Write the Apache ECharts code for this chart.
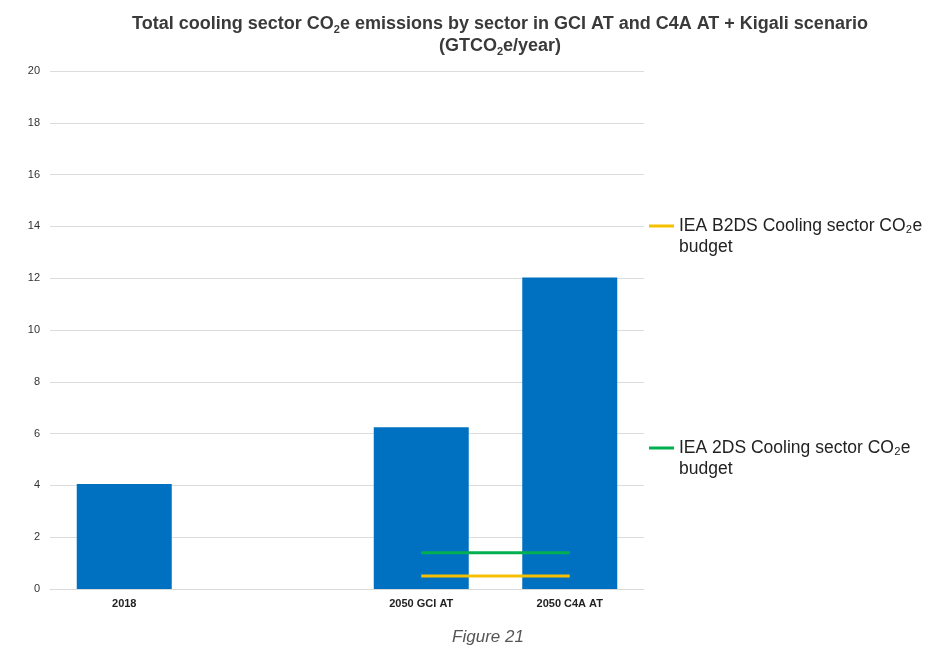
<!DOCTYPE html>
<html>
<head>
<meta charset="utf-8">
<script src="https://cdn.jsdelivr.net/npm/echarts@6/dist/echarts.min.js"></script>
<style>html,body{margin:0;padding:0;background:#fff}#c{width:936px;height:648px}</style>
</head>
<body>
<div id="c"></div>
<script>
const categories = ['2018', '', '2050 GCI AT', '2050 C4A AT'];
const emissions = [4.05, null, 6.25, 12.03];
const b2dsBudget = [null, null, 0.5, 0.5];
const twodsBudget = [null, null, 1.4, 1.4];
const yTicks = {min: 0, max: 20, interval: 2};
const b2dsName = 'IEA B2DS Cooling sector CO₂e budget';
const twodsName = 'IEA 2DS Cooling sector CO₂e budget';

const chart = echarts.init(document.getElementById('c'));
const legendText = {fontFamily: 'Liberation Sans, Arial, sans-serif', fontSize: 17.5, color: '#222', lineHeight: 21};
chart.setOption({
  animation: false,
  textStyle: {fontFamily: 'Liberation Sans, Arial, sans-serif'},
  title: [{
    text: 'Total cooling sector CO{s|2}e emissions by sector in GCI AT and C4A AT + Kigali scenario\n(GTCO{s|2}e/year)',
    left: 495, top: 8, textAlign: 'center',
    textStyle: {fontSize: 18, fontWeight: 'bold', color: '#3a3a3a', lineHeight: 22,
      rich: {s: {fontSize: 11, fontWeight: 'bold', color: '#3a3a3a', verticalAlign: 'bottom', padding: [9, 0, 0, 0]}}}
  }, {
    text: 'Figure 21', left: 483, top: 624, textAlign: 'center',
    textStyle: {fontSize: 17, fontStyle: 'italic', fontWeight: 'normal', color: '#555'}
  }],
  grid: {left: 50, right: 292, top: 71, bottom: 59, containLabel: false},
  legend: [{
    data: [b2dsName], orient: 'vertical', left: 649, top: 194.5, padding: 0,
    icon: 'rect', itemWidth: 25, itemHeight: 3, itemGap: 0,
    formatter: () => ' \nIEA B2DS Cooling sector CO₂e\nbudget', textStyle: legendText
  }, {
    data: [twodsName], orient: 'vertical', left: 649, top: 416.5, padding: 0,
    icon: 'rect', itemWidth: 25, itemHeight: 3, itemGap: 0,
    formatter: () => ' \nIEA 2DS Cooling sector CO₂e\nbudget', textStyle: legendText
  }],
  xAxis: {
    type: 'category', data: categories,
    axisLine: {lineStyle: {color: '#d9d9d9'}}, axisTick: {show: false},
    axisLabel: {fontSize: 11, fontWeight: 'bold', color: '#222', margin: 9}
  },
  yAxis: {
    type: 'value', min: yTicks.min, max: yTicks.max, interval: yTicks.interval,
    axisLine: {show: false}, axisTick: {show: false},
    axisLabel: {fontSize: 11, color: '#333', margin: 10},
    splitLine: {lineStyle: {color: '#dcdcdc'}}
  },
  series: [{
    name: 'Emissions', type: 'bar', data: emissions, barWidth: 95,
    itemStyle: {color: '#0070c0'}
  }, {
    name: b2dsName, type: 'line', data: b2dsBudget, symbol: 'none',
    lineStyle: {color: '#f6c000', width: 3}, itemStyle: {color: '#f6c000'}, z: 5
  }, {
    name: twodsName, type: 'line', data: twodsBudget, symbol: 'none',
    lineStyle: {color: '#00b050', width: 3}, itemStyle: {color: '#00b050'}, z: 5
  }]
});
</script>
</body>
</html>
